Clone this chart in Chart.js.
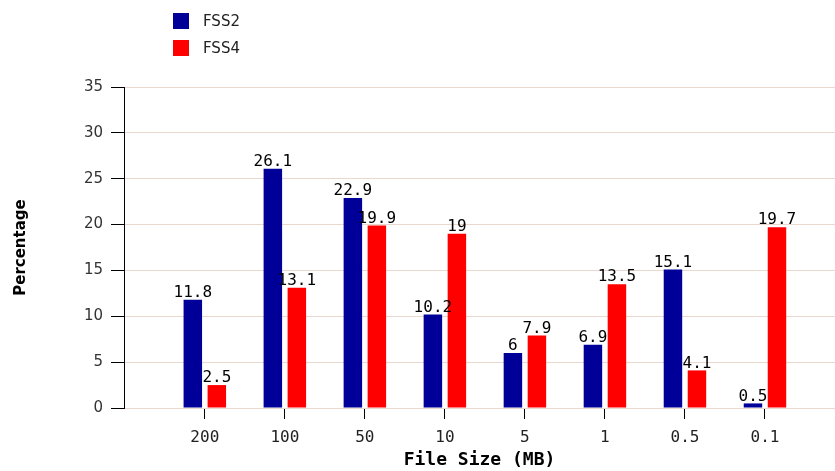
<!DOCTYPE html>
<html>
<head>
<meta charset="utf-8">
<script src="https://cdn.jsdelivr.net/npm/chart.js@4/dist/chart.umd.min.js"></script>
<style>
  html, body { margin: 0; padding: 0; background: #fff; }
  #wrap { width: 835px; height: 471px; }
</style>
</head>
<body>
<div id="wrap"><canvas id="sizeChart" width="835" height="471"></canvas></div>
<script>
// Veriler
const categories = ['200', '100', '50', '10', '5', '1', '0.5', '0.1'];
const fss2 = [11.8, 26.1, 22.9, 10.2, 6, 6.9, 15.1, 0.5];
const fss4 = [2.5, 13.1, 19.9, 19, 7.9, 13.5, 4.1, 19.7];
const yTicks = [0, 5, 10, 15, 20, 25, 30, 35];

const toPoints = arr => arr.map((v, i) => ({ x: i, y: v }));

// Değer etiketleri
const valueLabels = {
    id: 'valueLabels',
    afterDatasetsDraw(chart) {
        const ctx = chart.ctx;
        ctx.save();
        ctx.font = '16px "DejaVu Sans Mono"';
        ctx.fillStyle = '#000';
        ctx.textAlign = 'center';
        ctx.textBaseline = 'bottom';
        chart.data.datasets.forEach((ds, di) => {
            chart.getDatasetMeta(di).data.forEach((bar, i) => {
                ctx.fillText(String(ds.data[i].y), bar.x, bar.y + 1);
            });
        });
        ctx.restore();
    }
};

// Dikey lejant
const sideLegend = {
    id: 'sideLegend',
    afterDraw(chart) {
        const ctx = chart.ctx;
        ctx.save();
        ctx.font = '15px "DejaVu Sans"';
        ctx.textBaseline = 'middle';
        ctx.textAlign = 'left';
        chart.data.datasets.forEach((ds, i) => {
            const y = 13 + i * 27;
            ctx.fillStyle = ds.backgroundColor;
            ctx.fillRect(173, y, 16, 16);
            ctx.fillStyle = '#222';
            ctx.fillText(ds.label, 203, y + 9);
        });
        ctx.restore();
    }
};

const ctx = document.getElementById('sizeChart').getContext('2d');
const sizeChart = new Chart(ctx, {
    type: 'bar',
    data: {
        datasets: [{
            label: 'FSS2',
            data: toPoints(fss2),
            backgroundColor: '#000099',
            categoryPercentage: 0.6,
            barPercentage: 0.77
        }, {
            label: 'FSS4',
            data: toPoints(fss4),
            backgroundColor: '#ff0000',
            categoryPercentage: 0.6,
            barPercentage: 0.77
        }]
    },
    plugins: [valueLabels, sideLegend],
    options: {
        responsive: false,
        animation: false,
        layout: { padding: { top: 87, right: 0, left: 0, bottom: 0 } },
        plugins: {
            legend: { display: false },
            tooltip: { enabled: false }
        },
        scales: {
            x: {
                type: 'linear',
                offset: false,
                min: -1.01,
                max: 7.875,
                afterBuildTicks(scale) {
                    scale.ticks = categories.map((c, i) => ({ value: i }));
                },
                afterFit(scale) { scale.height = 63; },
                ticks: {
                    callback: v => categories[v],
                    color: '#222',
                    font: { family: '"DejaVu Sans Mono"', size: 16 },
                    padding: 9,
                    maxRotation: 0,
                    autoSkip: false
                },
                grid: {
                    offset: false,
                    drawOnChartArea: false,
                    tickColor: '#000',
                    tickLength: 11
                },
                border: { color: '#ead8cf' },
                title: {
                    display: true,
                    text: 'File Size (MB)',
                    color: '#000',
                    font: { family: '"DejaVu Sans Mono"', size: 18, weight: 'bold' },
                    padding: { top: 0, bottom: 0 }
                }
            },
            y: {
                min: 0,
                max: 35,
                afterBuildTicks(scale) {
                    scale.ticks = yTicks.map(v => ({ value: v }));
                },
                afterFit(scale) { scale.width = 124; },
                ticks: {
                    color: '#333',
                    font: { family: '"DejaVu Sans"', size: 15 },
                    padding: 8
                },
                grid: {
                    color: '#ead8cf',
                    tickColor: '#000',
                    tickLength: 13
                },
                border: { color: '#000' },
                title: {
                    display: true,
                    text: 'Percentage',
                    color: '#000',
                    font: { family: '"DejaVu Sans"', size: 15, weight: 'bold' },
                    padding: { top: 12, bottom: 0 }
                }
            }
        }
    }
});
</script>
</body>
</html>
